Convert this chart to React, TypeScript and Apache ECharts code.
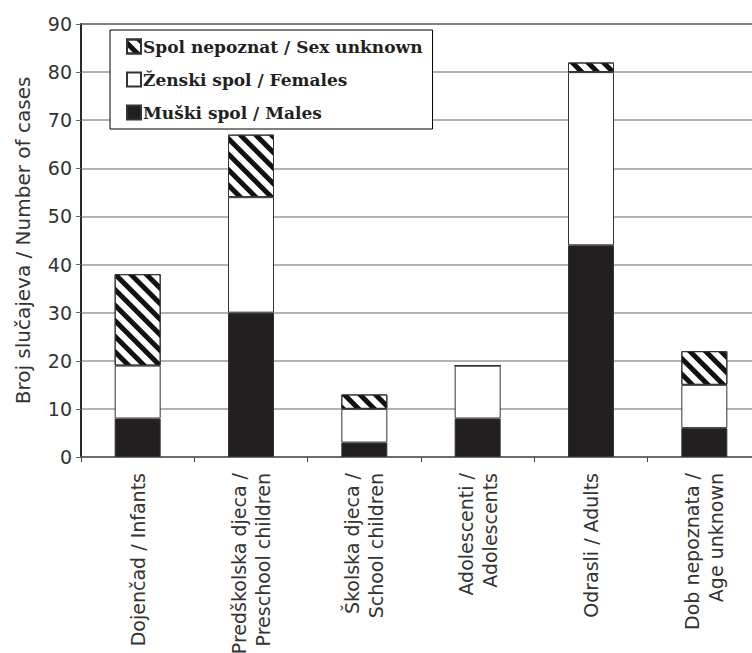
import React, { useEffect, useRef } from "react";
import * as echarts from "echarts";

const categories = [
  "Dojenčad / Infants",
  "Predškolska djeca /\nPreschool children",
  "Školska djeca /\nSchool children",
  "Adolescenti /\nAdolescents",
  "Odrasli / Adults",
  "Dob nepoznata /\nAge unknown",
];
const males = [8, 30, 3, 8, 44, 6];
const females = [11, 24, 7, 11, 36, 9];
const unknownSex = [19, 13, 3, 0, 2, 7];
const seriesNames = [
  "Muški spol / Males",
  "Ženski spol / Females",
  "Spol nepoznat / Sex unknown",
];
const legendOrder = [seriesNames[2], seriesNames[1], seriesNames[0]];
const yAxisTitle = "Broj slučajeva / Number of cases";

export default function App() {
  const ref = useRef<HTMLDivElement>(null);
  useEffect(() => {
    if (!ref.current) return;
    const chart = echarts.init(ref.current, null, { renderer: "svg" });
    const border = { borderColor: "#333", borderWidth: 1 };
    chart.setOption({
      animation: false,
      backgroundColor: "#fff",
      grid: {
        left: 81,
        top: 24,
        bottom: 196,
        right: 9,
        outerBoundsMode: "none",
        containLabel: false,
        show: true,
        borderColor: "#000",
        borderWidth: 1.5,
        backgroundColor: "transparent",
      },
      legend: {
        data: legendOrder.map((n) => ({ name: n, icon: "rect" })),
        orient: "vertical",
        left: 110,
        top: 30,
        padding: [8, 10, 8, 16],
        itemWidth: 14,
        itemHeight: 14,
        itemGap: 16,
        borderColor: "#000",
        borderWidth: 1,
        backgroundColor: "#fff",
        textStyle: {
          fontFamily: "DejaVu Serif",
          fontWeight: "bold",
          fontSize: 17,
          color: "#231f20",
          padding: [0, 0, 0, -3],
        },
      },
      xAxis: {
        type: "category",
        data: categories,
        axisLine: { lineStyle: { color: "#666", width: 1.5 } },
        axisTick: { show: true, length: 5, lineStyle: { color: "#444" } },
        axisLabel: {
          rotate: 90,
          interval: 0,
          margin: 16,
          fontFamily: "DejaVu Sans",
          fontSize: 19,
          lineHeight: 24,
          color: "#333",
        },
      },
      yAxis: {
        type: "value",
        min: 0,
        max: 90,
        interval: 10,
        name: yAxisTitle,
        nameLocation: "middle",
        nameGap: 48,
        nameTextStyle: { fontFamily: "DejaVu Sans", fontSize: 20, color: "#333" },
        axisLine: { show: true, lineStyle: { color: "#222", width: 1.5 } },
        axisTick: { show: true, length: 5, lineStyle: { color: "#666" } },
        axisLabel: {
          margin: 9,
          fontFamily: "DejaVu Sans",
          fontSize: 19,
          color: "#333",
        },
        splitLine: { lineStyle: { color: "#999", width: 1.5 } },
      },
      series: [
        {
          name: seriesNames[0],
          type: "bar",
          stack: "s",
          data: males,
          barWidth: 46,
          itemStyle: { color: "#231f20", ...border },
        },
        {
          name: seriesNames[1],
          type: "bar",
          stack: "s",
          data: females,
          itemStyle: { color: "#fff", ...border },
        },
        {
          name: seriesNames[2],
          type: "bar",
          stack: "s",
          data: unknownSex,
          itemStyle: {
            color: "#fff",
            ...border,
            decal: {
              symbol: "rect",
              symbolSize: 1,
              dashArrayX: [1, 0],
              dashArrayY: [5, 6],
              rotation: Math.PI / 4,
              color: "#111",
              backgroundColor: "#fff",
            },
          },
        },
      ],
    });
    return () => chart.dispose();
  }, []);
  return (
    <div
      ref={ref}
      style={{ position: "fixed", left: 0, top: 0, width: 770, height: 653 }}
    />
  );
}
